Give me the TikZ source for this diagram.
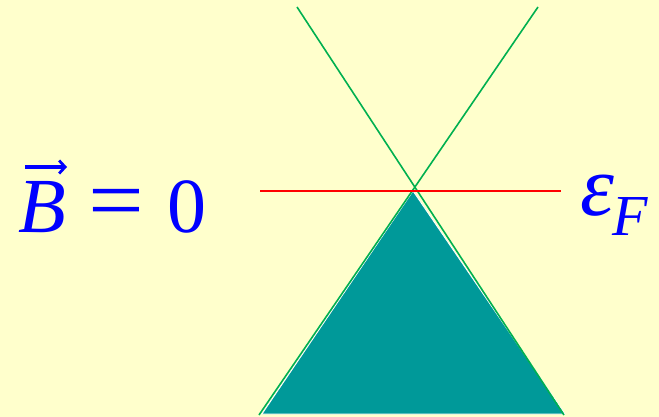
\documentclass[tikz,border=0pt]{standalone}
\usepackage{fontspec}
\setmainfont{Liberation Serif}
\usetikzlibrary{arrows.meta}
\definecolor{bgyellow}{HTML}{FFFFCC}
\definecolor{linegreen}{HTML}{00B050}
\definecolor{fillteal}{HTML}{009999}
\definecolor{txtblue}{HTML}{0000FF}
\definecolor{linered}{HTML}{FF0000}
\begin{document}
\begin{tikzpicture}[x=1pt,y=-1pt,
  bigtext/.style={text=txtblue,inner sep=0pt,anchor=base west,font=\fontsize{78}{84}\selectfont},
  cone/.style={linegreen,line width=1.6pt},
  fermi/.style={linered,line width=1.6pt}]
\fill[bgyellow] (0,0) rectangle (659,417);
\useasboundingbox (0,0) rectangle (659,417);
% filled states
\coordinate (apex) at (413,191);
\coordinate (bl) at (262,414);
\coordinate (br) at (565,414);
\filldraw[fill=fillteal,draw=white,line width=0.8pt] (apex) -- (bl) -- (br) -- cycle;
% cone lines
\coordinate (tl) at (297,7);
\coordinate (tr) at (538,7);
\coordinate (ebr) at (564,415);
\coordinate (ebl) at (259,415);
\draw[cone] (tl) -- (ebr);
\draw[cone] (tr) -- (ebl);
% Fermi level
\coordinate (fl) at (260,191);
\coordinate (fr) at (561,191);
\draw[fermi] (fl) -- (fr);
% labels
\node[bigtext] (B) at (18,232) {\itshape B};
\node[text=txtblue,inner sep=0pt,anchor=center,font=\fontsize{90}{94}\selectfont] (eq) at (116.5,210) {\scalebox{1.1}[1.0]{=}};
\node[bigtext] (zero) at (167,232) {0};
\coordinate (arrs) at (25,167);
\coordinate (arre) at (67,167);
\draw[txtblue,line width=3.5pt,-{Straight Barb[length=6pt,width=13pt,line width=2.8pt]}] (arrs) -- (arre);
\node[text=txtblue,inner sep=0pt,anchor=base west,font=\fontsize{86}{90}\selectfont\itshape] (eps) at (580,215) {ε};
\node[text=txtblue,inner sep=0pt,anchor=base west,font=\fontsize{58}{64}\selectfont\itshape] (F) at (612,235) {F};
\end{tikzpicture}
\end{document}
